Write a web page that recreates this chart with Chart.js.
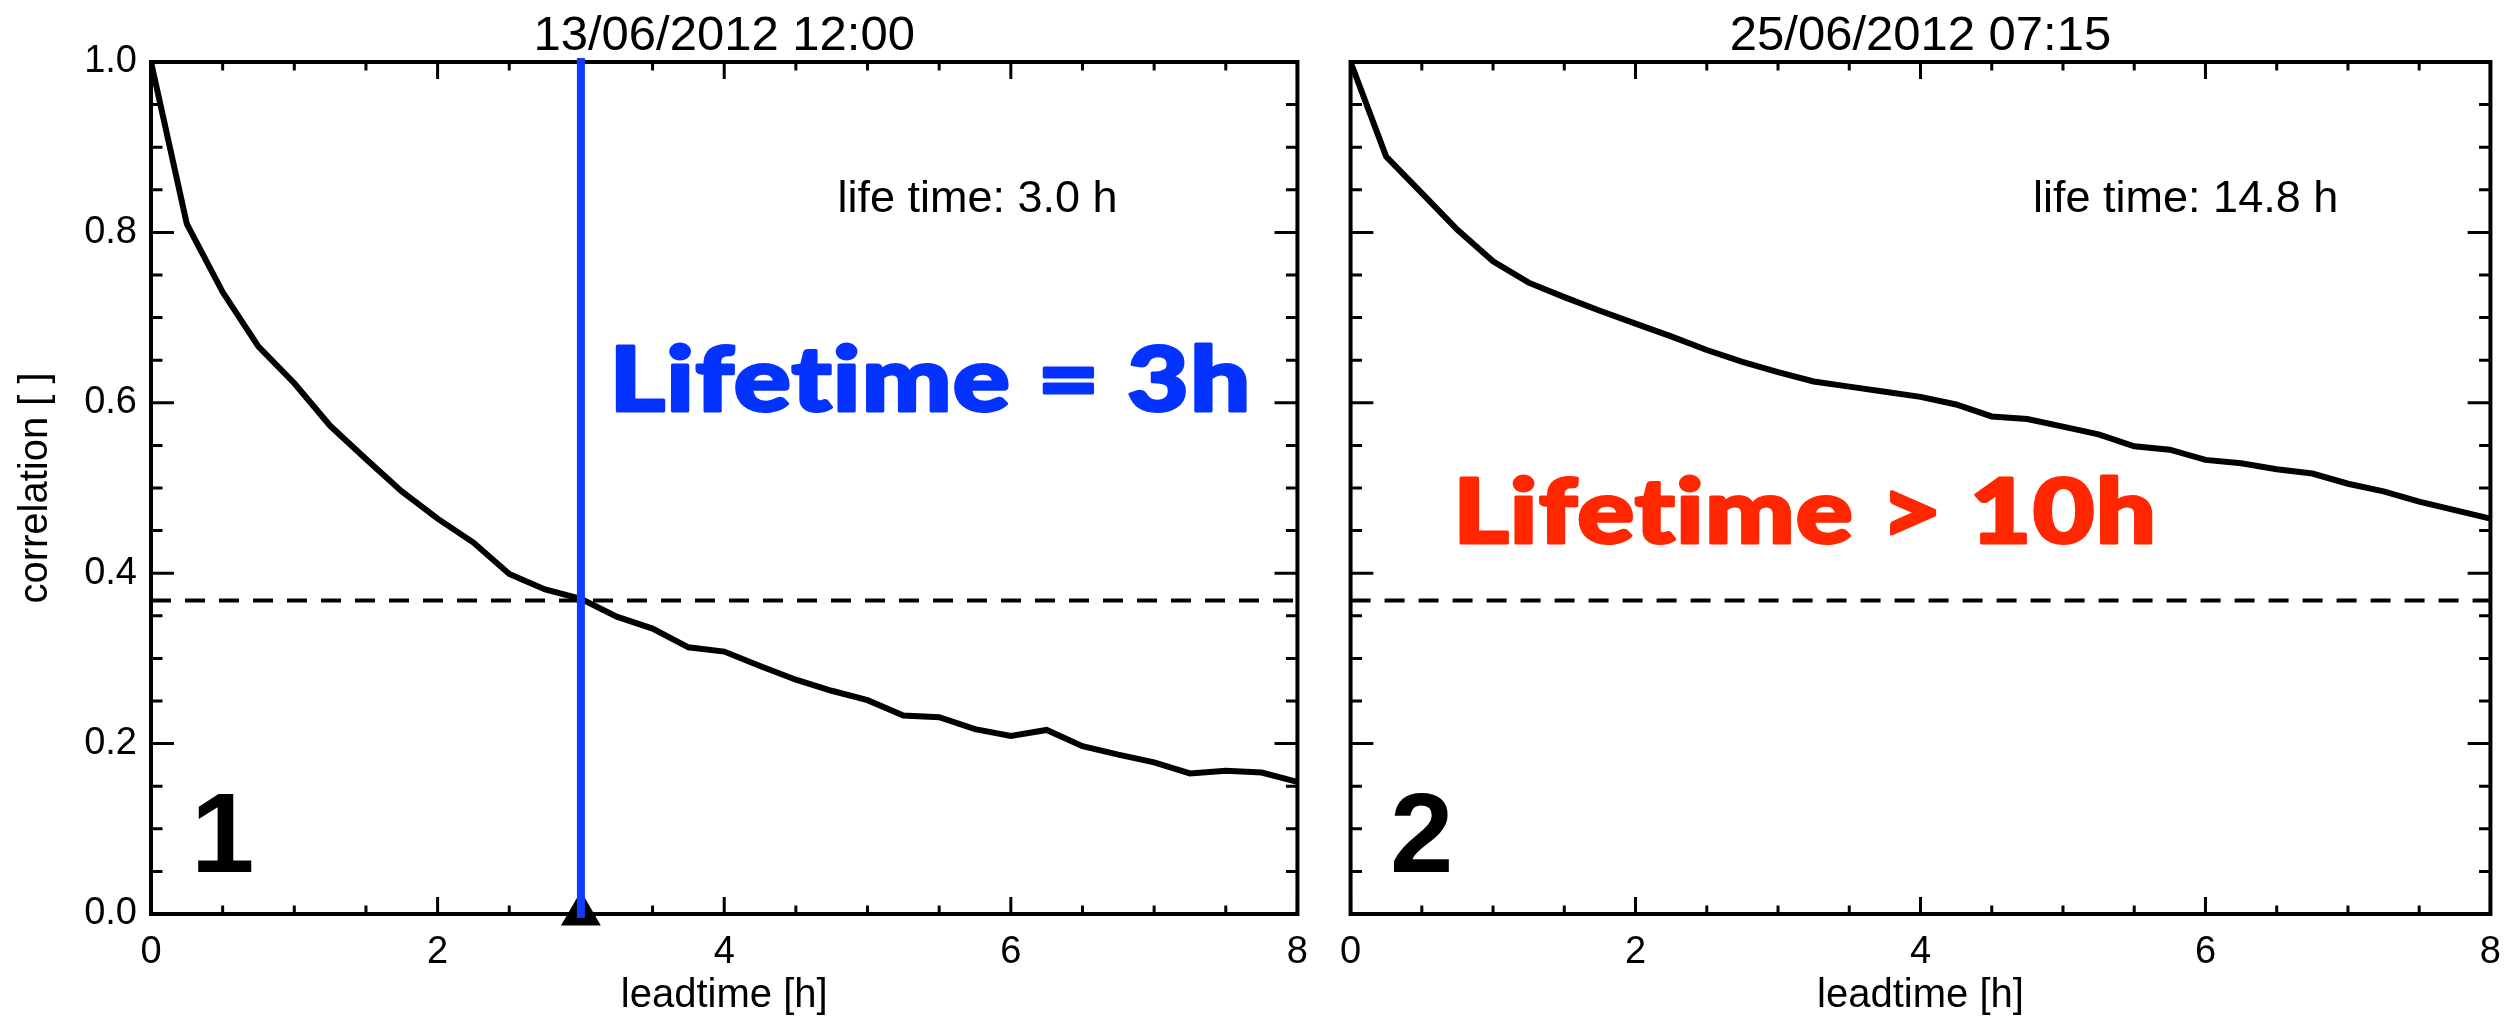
<!DOCTYPE html>
<html>
<head>
<meta charset="utf-8">
<title>correlation vs leadtime</title>
<script src="https://cdn.jsdelivr.net/npm/chart.js@4.4.1/dist/chart.umd.min.js"></script>
<style>
  html, body { margin: 0; padding: 0; background: #fff; }
  body { width: 2517px; height: 1024px; position: relative; overflow: hidden; }
  canvas { position: absolute; top: 0; }
  #panel-1 { left: 0; }
  #panel-2 { left: 1324px; }
</style>
</head>
<body>
<canvas id="panel-1" width="1324" height="1024"></canvas>
<canvas id="panel-2" width="1193" height="1024"></canvas>
<script>
// leadtime [h], one sample every 15 minutes
const leadtime = [0, 0.25, 0.5, 0.75, 1, 1.25, 1.5, 1.75, 2, 2.25, 2.5, 2.75, 3, 3.25, 3.5, 3.75,
                  4, 4.25, 4.5, 4.75, 5, 5.25, 5.5, 5.75, 6, 6.25, 6.5, 6.75, 7, 7.25, 7.5, 7.75, 8];

// 13/06/2012 12:00
const corr1 = [1.00, 0.810, 0.730, 0.666, 0.623, 0.573, 0.534, 0.496, 0.464, 0.436, 0.399, 0.381,
               0.370, 0.349, 0.335, 0.313, 0.308, 0.291, 0.275, 0.262, 0.251, 0.233, 0.231, 0.217,
               0.209, 0.216, 0.197, 0.187, 0.178, 0.165, 0.168, 0.166, 0.155];

// 25/06/2012 07:15
const corr2 = [1.00, 0.889, 0.846, 0.803, 0.766, 0.741, 0.724, 0.708, 0.693, 0.678, 0.662, 0.648,
               0.636, 0.625, 0.619, 0.613, 0.607, 0.598, 0.584, 0.581, 0.572, 0.563, 0.549, 0.545,
               0.533, 0.529, 0.522, 0.517, 0.505, 0.496, 0.484, 0.474, 0.464];

const efold = 0.368;        // 1/e threshold
const lifetime1 = 3.0;      // where corr1 drops below 1/e

const xTickValues = [0, 2, 4, 6, 8];
const yTickValues = [0, 0.2, 0.4, 0.6, 0.8, 1.0];
const minorPerMajor = 4;

const panelTitles = ['13/06/2012 12:00', '25/06/2012 07:15'];
const lifeTimeTexts = ['life time: 3.0 h', 'life time: 14.8 h'];
const panelNumbers = ['1', '2'];
const verdictTexts = ['Lifetime = 3h', 'Lifetime > 10h'];
const verdictColors = ['#0433ff', '#ff2600'];

const FONT = '"Liberation Sans", Arial, Helvetica, sans-serif';
Chart.defaults.font.family = FONT;
Chart.defaults.color = '#000';

function withMinors(values) {
    const out = [];
    for (let i = 0; i < values.length; i++) {
        out.push({ v: values[i], major: true });
        if (i < values.length - 1) {
            const step = (values[i + 1] - values[i]) / minorPerMajor;
            for (let k = 1; k < minorPerMajor; k++) out.push({ v: values[i] + k * step, major: false });
        }
    }
    return out;
}

// IDL style box: frame plus inward ticks on all four sides
const frameTicks = {
    id: 'frameTicks',
    beforeDatasetsDraw(chart) {
        const { ctx, chartArea: a, scales: { x, y } } = chart;
        const w = a.right - a.left;
        const h = a.bottom - a.top;
        ctx.save();
        ctx.strokeStyle = '#000';
        ctx.lineWidth = 4;
        ctx.strokeRect(a.left, a.top, w, h);
        ctx.lineWidth = 3;
        ctx.beginPath();
        withMinors(xTickValues).forEach(t => {
            const px = x.getPixelForValue(t.v);
            const len = (t.major ? 0.02 : 0.01) * h;
            ctx.moveTo(px, a.bottom); ctx.lineTo(px, a.bottom - len);
            ctx.moveTo(px, a.top); ctx.lineTo(px, a.top + len);
        });
        withMinors(yTickValues).forEach(t => {
            const py = y.getPixelForValue(t.v);
            const len = (t.major ? 0.02 : 0.01) * w;
            ctx.moveTo(a.left, py); ctx.lineTo(a.left + len, py);
            ctx.moveTo(a.right, py); ctx.lineTo(a.right - len, py);
        });
        ctx.stroke();
        ctx.restore();
    }
};

// title, life time note, panel number and the big verdict
const panelText = {
    id: 'panelText',
    afterDraw(chart, args, opts) {
        const { ctx, chartArea: a, scales: { x, y } } = chart;
        ctx.save();
        ctx.fillStyle = '#000';
        ctx.textBaseline = 'alphabetic';

        ctx.font = `49px ${FONT}`;
        ctx.textAlign = 'center';
        ctx.fillText(opts.title, (a.left + a.right) / 2, a.top - 12);

        ctx.font = `45px ${FONT}`;
        ctx.textAlign = 'left';
        ctx.fillText(opts.lifeText, x.getPixelForValue(4.79), y.getPixelForValue(0.824));

        ctx.font = `bold 114px ${FONT}`;
        ctx.textAlign = 'center';
        ctx.fillText(opts.number, x.getPixelForValue(0.5), y.getPixelForValue(0.049));

        // heavy humanist sans; letter spacing keeps Lato from joining "ti"
        ctx.font = '900 90px Lato, "Open Sans", sans-serif';
        ctx.letterSpacing = '1px';
        ctx.textAlign = 'left';
        ctx.fillStyle = opts.verdictColor;
        ctx.strokeStyle = opts.verdictColor;
        ctx.lineWidth = 3;
        ctx.lineJoin = 'round';
        const px = x.getPixelForValue(opts.verdictAt[0]);
        const py = y.getPixelForValue(opts.verdictAt[1]);
        const sx = opts.verdictWidth / ctx.measureText(opts.verdict).width;
        ctx.translate(px, py);
        ctx.scale(sx, 1);
        ctx.fillText(opts.verdict, 0, 0);
        ctx.strokeText(opts.verdict, 0, 0);
        ctx.restore();
    }
};

function makeChart(canvasId, idx, corr, extraSets, yAxisWidth, showYLabels) {
    const datasets = [
        {
            label: 'correlation',
            data: leadtime.map((t, i) => ({ x: t, y: corr[i] })),
            borderColor: '#000',
            borderWidth: 6,
            pointRadius: 0,
            tension: 0,
            order: 2
        },
        {
            label: '1/e',
            data: [{ x: xTickValues[0], y: efold }, { x: xTickValues[xTickValues.length - 1], y: efold }],
            borderColor: '#000',
            borderWidth: 4,
            borderDash: [20, 14],
            pointRadius: 0,
            order: 3
        },
        ...extraSets
    ];

    return new Chart(document.getElementById(canvasId), {
        type: 'line',
        data: { datasets },
        options: {
            responsive: false,
            maintainAspectRatio: false,
            animation: false,
            devicePixelRatio: 1,
            layout: { padding: { top: 62, right: idx === 0 ? 23 : 19, left: 0, bottom: 0 } },
            plugins: {
                legend: { display: false },
                tooltip: { enabled: false },
                panelText: {
                    title: panelTitles[idx],
                    lifeText: lifeTimeTexts[idx],
                    number: panelNumbers[idx],
                    verdict: verdictTexts[idx],
                    verdictColor: verdictColors[idx],
                    verdictAt: idx === 0 ? [3.2, 0.590] : [0.72, 0.435],
                    verdictWidth: idx === 0 ? 642 : 704
                }
            },
            scales: {
                x: {
                    type: 'linear',
                    min: 0,
                    max: 8,
                    afterBuildTicks: s => { s.ticks = xTickValues.map(v => ({ value: v })); },
                    afterFit: s => { s.height = 110; },
                    grid: { display: false, drawTicks: false },
                    border: { display: false },
                    ticks: { font: { size: 38 }, padding: 16, maxRotation: 0, callback: v => String(v) },
                    title: { display: true, text: 'leadtime [h]', font: { size: 40 }, padding: { top: 0, bottom: 4 } }
                },
                y: {
                    type: 'linear',
                    min: 0,
                    max: 1,
                    afterBuildTicks: s => { s.ticks = yTickValues.map(v => ({ value: v })); },
                    afterFit: s => { s.width = yAxisWidth; },
                    grid: { display: false, drawTicks: false },
                    border: { display: false },
                    ticks: { display: showYLabels, font: { size: 38 }, padding: 14, callback: v => v.toFixed(1) },
                    title: { display: showYLabels, text: 'correlation [ ]', font: { size: 40 }, padding: { top: 12, bottom: 0 } }
                }
            }
        },
        plugins: [frameTicks, panelText]
    });
}

// vertical marker at the first panel's lifetime
const lifetimeSets = [
    {
        label: 'lifetime',
        data: [{ x: lifetime1, y: 0 }, { x: lifetime1, y: 1 }],
        borderColor: '#0d3dff',
        borderWidth: 8,
        borderCapStyle: 'square',
        pointRadius: 0,
        clip: false,
        order: 0
    },
    {
        label: 'lifetime marker',
        data: [{ x: lifetime1, y: 0 }],
        showLine: false,
        pointStyle: 'triangle',
        pointRadius: 23,
        pointBackgroundColor: '#000',
        pointBorderWidth: 0,
        clip: false,
        order: 1
    }
];

makeChart('panel-1', 0, corr1, lifetimeSets, 151, true);
makeChart('panel-2', 1, corr2, [], 24, false);
</script>
</body>
</html>
